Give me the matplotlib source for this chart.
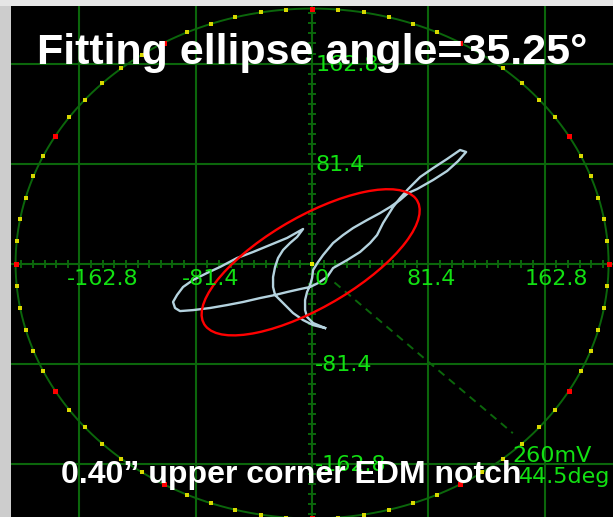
import numpy as np
import matplotlib.pyplot as plt
from matplotlib.patches import Ellipse, Rectangle

# screen scale (one division = 81.4)
div = 81.4
grid_vals = [-162.8, -81.4, 0.0, 81.4, 162.8]
x_labels = ['-162.8', '-81.4', '0', '81.4', '162.8']
y_vals = [162.8, 81.4, -81.4, -162.8]
y_labels = ['162.8', '81.4', '-81.4', '-162.8']

ring_radius = 207.5

# fitted ellipse
fit_center = (-1.0, 1.0)
fit_major = 90.0
fit_minor = 35.5
fit_angle = 35.25

# phase / amplitude readout
phase_deg = -44.5
phase_len = 197.0
amp_text = '260mV'
phase_text = '44.5deg'

# eddy current signal trace
trace_x = [9.1, 0.7, -3.5, -4.9, -4.9, -3.5, -1.4, 0.0,
           0.7, 4.2, 7.7, 14.7, 21.7, 28.7, 38.5, 47.6, 54.6, 61.6, 67.2,
           73.5, 84.7, 94.5, 102.2, 107.8,
           103.6, 94.5, 84.7, 75.6, 67.2,
           61.6, 56.7, 53.2, 49.7, 45.5, 40.6, 33.6, 24.5, 14.7, 10.5, 4.2, -1.4,
           -8.4, -17.5, -25.9, -36.4, -48.3, -59.5, -71.4, -83.3, -92.4, -95.9,
           -97.3, -94.5, -90.3, -83.3, -73.5, -64.4, -52.5, -41.3, -29.4, -17.5,
           -6.3,
           -10.5, -15.4, -20.3, -23.8, -25.9, -27.3, -27.3, -25.9, -22.4, -17.5,
           -13.3, -6.3, 0.7, 9.1]
trace_y = [-52.5, -48.4, -43.5, -37.9, -29.7, -23.2, -17.5, -11.8,
           -5.3, 1.2, 6.9, 16.7, 23.2, 28.9, 35.4, 41.1, 46.0, 51.7, 57.4,
           60.6, 68.0, 75.3, 83.4, 90.8,
           92.4, 85.1, 77.7, 70.4, 60.6,
           53.3, 46.0, 39.5, 33.0, 23.2, 16.7, 9.4, 2.8, -3.7, -11.0, -15.9, -19.1,
           -20.8, -23.2, -25.6, -28.1, -31.3, -33.8, -36.2, -37.9, -38.7, -36.2,
           -31.3, -25.6, -19.1, -13.4, -7.7, -2.8, 4.5, 9.4, 15.1, 20.8,
           28.1,
           21.6, 16.7, 11.0, 4.5, -2.8, -11.0, -19.1, -25.6, -29.7, -35.4,
           -40.3, -46.0, -50.1, -52.5]

W, H = 613, 517
grid_c = '#0b660b'
label_c = '#12e012'

fig = plt.figure(figsize=(W / 100, H / 100), dpi=100, facecolor='#cdcdcd')
fig.patches.append(Rectangle((0, 1 - 6 / H), 1, 6 / H, transform=fig.transFigure,
                             facecolor='#e6e6e6', edgecolor='none', zorder=0))
ax = fig.add_axes([11 / W, 0, 602 / W, 511 / H])
ax.set_facecolor('black')
for s in ax.spines.values():
    s.set_visible(False)
ax.set_xticks([])
ax.set_yticks([])
ax.set_xlim(-210.7, 210.6)
ax.set_ylim(-206.3, 209.6)

# grid
for v in grid_vals:
    ax.axvline(v, color=grid_c, lw=1.5, zorder=1)
    ax.axhline(v, color=grid_c, lw=1.5, zorder=1)

# small ticks along both axes
tk = np.arange(-25, 26) * div / 10
ax.plot(tk, np.zeros_like(tk), ls='none', marker='|', ms=6, mew=1.4, color=grid_c, zorder=1)
ax.plot(np.zeros_like(tk), tk, ls='none', marker='_', ms=6, mew=1.4, color=grid_c, zorder=1)

# range circle with markers every 5 deg
t = np.linspace(0, 2 * np.pi, 721)
ax.plot(ring_radius * np.cos(t), ring_radius * np.sin(t), color=grid_c, lw=1.4, zorder=2)
ang = np.deg2rad(np.arange(0, 360, 5))
major = np.arange(0, 360, 5) % 30 == 0
ax.plot(ring_radius * np.cos(ang[~major]), ring_radius * np.sin(ang[~major]), ls='none',
        marker='s', ms=2.2, color='#d8d800', mew=0, zorder=3)
ax.plot(ring_radius * np.cos(ang[major]), ring_radius * np.sin(ang[major]), ls='none',
        marker='s', ms=3.6, color='#ff0000', mew=0, zorder=3)

# phase line
pr = np.array([22, phase_len])
pa = np.deg2rad(phase_deg)
ax.plot(pr * np.cos(pa), pr * np.sin(pa), color=grid_c, lw=1.4, ls=(0, (4, 3)), zorder=2)

# axis labels
x_off = [23, 14.5, 9.5, 3, 12]
for v, lab, dx in zip(grid_vals, x_labels, x_off):
    ax.annotate(lab, (v, 0), xytext=(dx * 0.72, -21.5 * 0.72), textcoords='offset points',
                ha='center', va='baseline', color=label_c, fontsize=16,
                family='DejaVu Sans', zorder=5)
for v, lab in zip(y_vals, y_labels):
    ax.annotate(lab, (0, v), xytext=(3 * 0.72, -7 * 0.72), textcoords='offset points',
                ha='left', va='baseline', color=label_c, fontsize=16,
                family='DejaVu Sans', zorder=5)

# signal and fitted ellipse
ax.plot(trace_x, trace_y, color='#b4d2de', lw=1.7, zorder=4)
ax.add_patch(Ellipse(fit_center, 2 * fit_major, 2 * fit_minor, angle=fit_angle,
                     fill=False, edgecolor='#ff0000', lw=1.7, zorder=4))
ax.plot([0], [0], ls='none', marker='s', ms=3.5, color='#e8e800', mew=0, zorder=5)

fig.text(512 / W, 1 - 462 / H, amp_text, color=label_c, fontsize=16,
         family='DejaVu Sans', va='baseline', ha='left')
fig.text(519 / W, 1 - 483 / H, phase_text, color=label_c, fontsize=16,
         family='DejaVu Sans', va='baseline', ha='left')

fig.text(312.5 / W, 1 - 64 / H, 'Fitting ellipse angle=35.25°', color='white',
         fontsize=31, fontweight='bold', family='Liberation Sans', ha='center',
         va='baseline', zorder=10)
fig.text(61 / W, 1 - 483 / H, '0.40\u201d upper corner EDM notch', color='white',
         fontsize=23, fontweight='bold', family='Liberation Sans', ha='left',
         va='baseline', zorder=10)

fig.savefig('out.png', dpi=100, facecolor=fig.get_facecolor())
